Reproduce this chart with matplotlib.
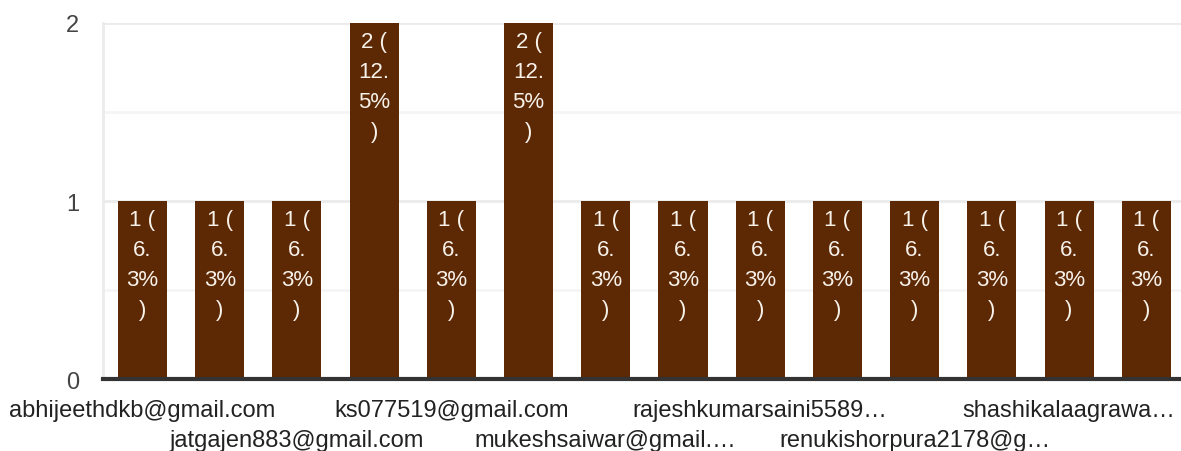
import matplotlib.pyplot as plt

# values (16 responses in total)
emails = [
    "abhijeethdkb@gmail.com", "", "jatgajen883@gmail.com", "",
    "ks077519@gmail.com", "", "mukeshsaiwar@gmail.…", "",
    "rajeshkumarsaini5589…", "", "renukishorpura2178@g…", "",
    "shashikalaagrawa…", "",
]
counts = [1, 1, 1, 2, 1, 2, 1, 1, 1, 1, 1, 1, 1, 1]
bar_labels = ["1 (\n6.\n3%\n)" if c == 1 else "2 (\n12.\n5%\n)" for c in counts]

plt.rcParams["font.family"] = ["Liberation Sans", "DejaVu Sans"]

fig = plt.figure(figsize=(11.81, 4.52), dpi=100)
ax = fig.add_axes([0.0872, 0.159, 0.9128, 0.788])

x = list(range(len(counts)))
bars = ax.bar(x, counts, width=0.635, color="#5d2904", zorder=3)

for b, lab in zip(bars, bar_labels):
    ax.annotate(lab, (b.get_x() + b.get_width() / 2, b.get_height()),
                xytext=(0, -6), textcoords="offset points",
                ha="center", va="top", color="#f7f1ea", fontsize=16,
                linespacing=1.55, zorder=4)

ax.set_xlim(-0.512, 13.45)
ax.set_ylim(0, 2)

ax.set_yticks([0, 1, 2])
ax.set_yticks([0.5, 1.5], minor=True)
ax.tick_params(axis="y", which="both", length=0, pad=17, labelsize=17,
               labelcolor="#444444")
ax.grid(axis="y", which="major", color="#ebebeb", linewidth=2, zorder=0)
ax.grid(axis="y", which="minor", color="#f5f5f5", linewidth=2, zorder=0)

shown = [i for i, e in enumerate(emails) if e]
ax.set_xticks(shown, [emails[i] for i in shown])
ax.tick_params(axis="x", length=0, pad=14, labelsize=17, labelcolor="#222222")
# stagger the labels on two rows
for k, tick in enumerate(ax.xaxis.get_major_ticks()):
    if k % 2 == 1:
        tick.set_pad(36)

for s in ["top", "right"]:
    ax.spines[s].set_visible(False)
ax.spines["left"].set_color("#ebebeb")
ax.spines["left"].set_linewidth(2)
ax.spines["bottom"].set_color("#333333")
ax.spines["bottom"].set_linewidth(3)
ax.spines["bottom"].set_zorder(5)

fig.savefig("out.png", dpi=100)
